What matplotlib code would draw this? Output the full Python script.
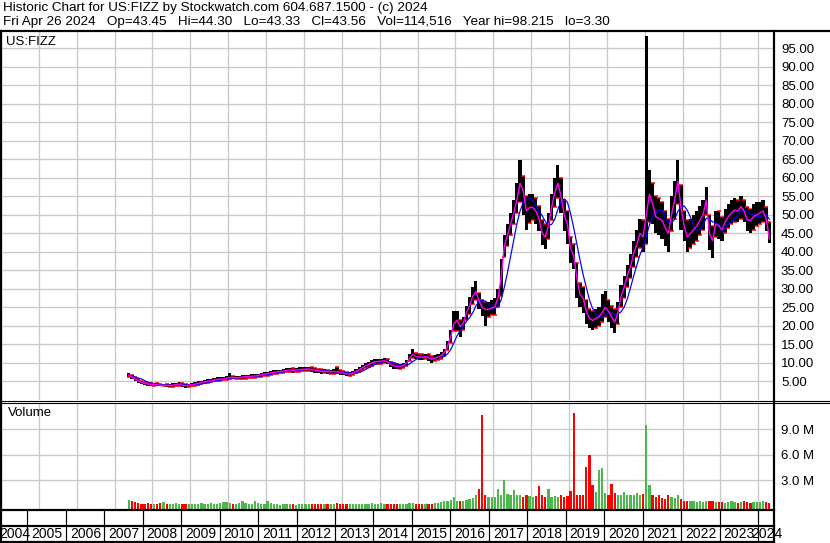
import numpy as np
import pandas as pd
import matplotlib
matplotlib.use('Agg')
import matplotlib.pyplot as plt
from matplotlib.lines import Line2D

plt.rcParams['font.family'] = ['Liberation Sans', 'DejaVu Sans']

# monthly data, May 2007 .. Apr 2024 (prices in $, volume in millions)
close = np.array(
    [6.8, 6.2, 5.6, 5.1, 4.8, 4.5, 4.3, 4.2] +                              # 2007
    [4.2, 4.1, 4.0, 4.0, 3.9, 3.9, 4.0, 4.2, 4.3, 4.0, 3.8, 4.0] +          # 2008
    [4.2, 4.3, 4.5, 4.7, 4.9, 5.1, 5.2, 5.4, 5.6, 5.6, 5.7, 5.9] +          # 2009
    [6.1, 6.0, 6.0, 6.1, 6.2, 6.3, 6.3, 6.4, 6.5, 6.6, 6.8, 7.0] +          # 2010
    [7.1, 7.3, 7.5, 7.6, 7.7, 7.8, 8.0, 8.1, 8.0, 8.1, 8.2, 8.3] +          # 2011
    [8.3, 8.4, 8.2, 8.0, 7.9, 7.7, 7.8, 7.6, 7.6, 7.7, 7.6, 7.4] +          # 2012
    [7.2, 7.0, 7.0, 7.3, 7.7, 8.2, 8.7, 9.2, 9.6, 10.0, 10.3, 10.4] +       # 2013
    [10.5, 10.6, 10.3, 9.6, 9.2, 9.0, 9.1, 9.3, 10.0, 11.2, 12.3, 11.8] +   # 2014
    [11.6, 11.5, 11.7, 11.5, 11.0, 11.3, 11.6, 12.0, 12.8, 14.5, 17.0, 20.5] +  # 2015
    [21.5, 19.8, 20.8, 23.5, 25.5, 28.0, 29.3, 26.8, 25.0, 24.4, 24.5, 24.8] +  # 2016
    [25.2, 27.5, 33.0, 41.5, 44.5, 47.5, 50.5, 54.0, 58.5, 56.5, 51.0, 52.0] +  # 2017
    [52.0, 51.0, 49.0, 45.0, 44.0, 47.0, 52.0, 56.0, 58.5, 55.0, 50.0, 47.5] +  # 2018
    [41.0, 39.0, 33.0, 28.5, 27.5, 24.0, 22.0, 21.5, 22.0, 22.5, 23.5, 25.0] +  # 2019
    [24.0, 22.5, 21.0, 23.5, 28.0, 30.5, 33.5, 36.0, 39.5, 42.0, 45.0, 44.0] +  # 2020
    [50.0, 55.5, 53.0, 49.5, 49.0, 48.5, 46.5, 45.0, 50.0, 54.0, 59.0, 52.0] +  # 2021
    [47.0, 44.0, 45.0, 46.0, 47.0, 48.5, 50.0, 54.0, 45.0, 43.0, 47.5, 47.0] +  # 2022
    [46.0, 48.0, 49.5, 50.5, 51.3, 51.0, 52.2, 51.0, 48.6, 48.5, 49.5, 50.0] +  # 2023
    [50.5, 51.0, 49.0, 43.56]                                                # 2024
)
high = np.array(
    [7.4, 6.8, 6.1, 5.6, 5.2, 4.9, 4.7, 4.6] +
    [4.6, 4.5, 4.4, 4.4, 4.3, 4.3, 4.5, 4.7, 4.8, 4.6, 4.3, 4.4] +
    [4.6, 4.8, 5.0, 5.2, 5.4, 5.6, 5.7, 5.9, 6.1, 6.1, 6.2, 6.4] +
    [7.4, 6.5, 6.4, 6.6, 6.7, 6.8, 6.8, 6.9, 7.0, 7.1, 7.3, 7.5] +
    [7.6, 7.8, 8.0, 8.1, 8.2, 8.3, 8.6, 8.7, 8.6, 8.7, 8.8, 8.9] +
    [8.9, 9.0, 8.8, 8.6, 8.5, 8.3, 8.4, 8.2, 8.2, 8.3, 9.0, 8.0] +
    [7.7, 7.5, 7.5, 7.8, 8.3, 8.8, 9.4, 9.9, 10.3, 10.7, 11.0, 11.1] +
    [11.2, 11.3, 11.0, 10.3, 9.9, 9.6, 9.7, 10.0, 10.8, 12.5, 13.8, 12.6] +
    [12.4, 12.3, 12.5, 12.3, 11.8, 12.1, 12.4, 12.9, 13.8, 15.8, 18.8, 23.9] +
    [23.9, 21.5, 22.5, 25.5, 27.8, 30.5, 32.2, 29.0, 27.0, 26.5, 26.5, 27.0] +
    [27.5, 30.0, 38.0, 44.5, 47.5, 50.5, 54.0, 58.5, 64.9, 60.5, 55.0, 55.5] +
    [55.5, 54.5, 52.5, 48.5, 47.5, 50.5, 55.5, 60.0, 63.5, 60.0, 54.0, 51.0] +
    [44.0, 42.0, 37.0, 31.5, 30.5, 27.0, 24.5, 24.0, 24.5, 25.0, 28.5, 29.3] +
    [27.0, 25.5, 24.5, 26.5, 31.0, 33.5, 36.5, 39.5, 43.0, 46.0, 49.0, 48.5] +
    [98.2, 62.0, 58.5, 55.0, 54.5, 53.5, 51.0, 49.0, 55.0, 59.0, 64.9, 58.0] +
    [51.0, 48.5, 49.0, 50.0, 51.0, 52.5, 54.0, 57.6, 50.0, 47.0, 51.0, 51.0] +
    [49.5, 51.5, 53.0, 54.0, 54.5, 54.0, 55.0, 54.0, 52.0, 51.5, 53.0, 53.5] +
    [53.5, 54.0, 52.0, 48.0]
)
low = np.array(
    [6.3, 5.7, 5.1, 4.7, 4.4, 4.1, 3.9, 3.9] +
    [3.9, 3.8, 3.7, 3.7, 3.6, 3.5, 3.6, 3.8, 3.9, 3.4, 3.3, 3.6] +
    [3.8, 3.9, 4.1, 4.3, 4.5, 4.7, 4.8, 5.0, 5.2, 5.2, 5.3, 5.5] +
    [5.7, 5.6, 5.6, 5.7, 5.8, 5.8, 5.9, 6.0, 6.0, 6.1, 6.3, 6.5] +
    [6.6, 6.8, 7.0, 7.1, 7.2, 7.3, 7.5, 7.5, 7.4, 7.5, 7.6, 7.7] +
    [7.7, 7.8, 7.6, 7.4, 7.3, 7.1, 7.2, 7.0, 7.0, 7.1, 7.0, 6.8] +
    [6.7, 6.5, 6.5, 6.8, 7.2, 7.6, 8.1, 8.6, 9.0, 9.3, 9.6, 9.7] +
    [9.8, 9.9, 9.6, 8.9, 8.5, 8.3, 8.4, 8.6, 9.3, 10.4, 11.4, 11.0] +
    [10.9, 10.8, 11.0, 10.6, 10.0, 10.5, 10.8, 11.2, 11.9, 13.4, 15.5, 18.5] +
    [18.5, 17.0, 18.8, 21.5, 23.3, 25.8, 27.0, 24.5, 22.6, 20.0, 22.5, 23.0] +
    [23.0, 25.0, 28.0, 38.5, 41.5, 44.5, 47.5, 50.5, 53.5, 50.0, 46.0, 47.8] +
    [48.5, 47.5, 45.5, 41.8, 40.8, 43.5, 48.5, 52.0, 54.5, 50.5, 45.5, 42.0] +
    [37.0, 35.5, 27.5, 25.0, 23.5, 20.5, 19.5, 19.0, 19.5, 20.0, 21.0, 22.5] +
    [21.0, 19.5, 18.0, 20.5, 25.0, 27.5, 30.5, 33.0, 36.0, 38.5, 41.0, 40.0] +
    [42.0, 48.0, 47.5, 45.0, 44.5, 43.5, 41.5, 40.0, 45.5, 49.0, 53.0, 46.0] +
    [43.0, 40.0, 41.0, 42.0, 43.0, 44.5, 46.0, 50.0, 40.5, 38.3, 44.0, 43.5] +
    [43.0, 45.0, 46.5, 47.5, 48.0, 48.0, 49.0, 48.0, 45.5, 45.0, 46.0, 47.0] +
    [47.5, 48.0, 45.5, 42.5]
)
volume = np.array(
    [0.7, 0.5, 0.4, 0.3, 0.2, 0.2, 0.3, 0.2] +
    [0.2, 0.2, 0.3, 0.4, 0.2, 0.2, 0.2, 0.3, 0.2, 0.2, 0.2, 0.2] +
    [0.2, 0.2, 0.2, 0.3, 0.2, 0.2, 0.3, 0.2, 0.2, 0.3, 0.4, 0.45] +
    [0.3, 0.2, 0.2, 0.3, 0.6, 0.3, 0.2, 0.2, 0.5, 0.3, 0.2, 0.2] +
    [0.6, 0.3, 0.2, 0.2, 0.1, 0.2, 0.2, 0.2, 0.2, 0.1, 0.2, 0.2] +
    [0.2, 0.15, 0.2, 0.2, 0.15, 0.2, 0.2, 0.15, 0.2, 0.2, 0.3, 0.2] +
    [0.2, 0.2, 0.15, 0.2, 0.2, 0.2, 0.25, 0.2, 0.2, 0.3, 0.2, 0.2] +
    [0.3, 0.2, 0.2, 0.2, 0.2, 0.15, 0.2, 0.2, 0.2, 0.3, 0.3, 0.2] +
    [0.2, 0.2, 0.2, 0.2, 0.2, 0.3, 0.3, 0.4, 0.5, 0.5, 0.7, 1.0] +
    [0.6, 0.5, 0.6, 0.7, 0.8, 0.9, 1.2, 2.0, 10.7, 1.3, 1.0, 1.0] +
    [1.0, 2.0, 1.2, 3.0, 1.4, 1.2, 1.8, 1.2, 1.3, 1.0, 1.3, 1.1] +
    [1.0, 1.1, 2.3, 1.2, 1.0, 2.0, 1.0, 1.1, 1.0, 1.2, 1.0, 1.1] +
    [1.7, 10.9, 1.3, 1.2, 1.3, 4.6, 5.9, 2.4, 1.6, 4.2, 4.4, 1.5] +
    [1.2, 2.6, 1.5, 1.2, 1.3, 1.6, 1.2, 1.3, 1.2, 1.5, 1.3, 1.4] +
    [9.5, 2.4, 1.2, 1.0, 1.2, 0.9, 0.8, 1.3, 1.0, 0.9, 1.3, 0.8] +
    [0.6, 0.5, 0.6, 0.5, 0.4, 0.5, 0.4, 0.6, 0.5, 0.5, 0.4, 0.4] +
    [0.4, 0.3, 0.4, 0.5, 0.4, 0.3, 0.4, 0.5, 0.4, 0.3, 0.4, 0.4] +
    [0.4, 0.5, 0.4, 0.3]
)

months = pd.period_range('2007-05', '2024-04', freq='M')
t = np.asarray(months.year + (months.month - 0.5) / 12)

years = list(range(2004, 2025))
price_ticks = list(range(5, 100, 5))
vol_ticks = [3, 6, 9]

header1 = "Historic Chart for US:FIZZ by Stockwatch.com 604.687.1500 - (c) 2024"
header2 = ("Fri Apr 26 2024   Op=43.45   Hi=44.30   Lo=43.33   Cl=43.56   "
           "Vol=114,516   Year hi=98.215   lo=3.30")

ma_long = pd.Series(close).rolling(5, min_periods=1).mean()
up = np.r_[True, close[1:] >= close[:-1]]

# ---- layout (pixels) ----
W, H = 830, 543
X0, X1 = 1, 774
YR_X, YR_PX = 27.3, 38.46   # pixel of 2005 boundary, pixels per year
xlim = (2005 + (X0 - YR_X) / YR_PX, 2005 + (X1 - YR_X) / YR_PX)
px = 0.72  # one pixel in points

fig = plt.figure(figsize=(8.3, 5.43), dpi=100)
fig.patch.set_facecolor('white')

def fx(x):
    return x / W

def fy(y):
    return 1 - y / H

def panel(top, bottom):
    a = fig.add_axes([fx(X0), fy(bottom), fx(X1 - X0), (bottom - top) / H])
    a.set_xlim(*xlim)
    for s in a.spines.values():
        s.set_visible(False)
    a.tick_params(length=0)
    return a

def line(xs, ys, lw):
    fig.add_artist(Line2D([fx(v) for v in xs], [fy(v) for v in ys],
                          color='black', lw=lw * px, transform=fig.transFigure))

grid = '#c8c8c8'

# price panel
ax = panel(32, 400)
ax.set_ylim(0, (400 - 32) / 3.704)
ax.set_xticks(years)
ax.set_xticklabels([])
ax.set_yticks(price_ticks)
ax.set_yticklabels(['%.2f' % v for v in price_ticks], fontsize=9.5)
ax.yaxis.tick_right()
ax.tick_params(axis='y', pad=5)
ax.grid(True, color=grid, lw=1.3 * px)
ax.set_axisbelow(True)
ax.bar(t, high - low, bottom=low, width=1 / 12, color='black', lw=0, zorder=2)
ax.plot(t[~up], high[~up], ls='none', marker='_', ms=3, mew=1.5 * px,
        color='red', zorder=3)
ax.plot(t[up], low[up], ls='none', marker='_', ms=3, mew=1.5 * px,
        color='red', zorder=3)
ax.plot(t, ma_long, color='#0000ff', lw=1.2 * px, zorder=4)
ax.plot(t, close, color='#ff00ff', lw=1.4 * px, zorder=5)
fig.text(fx(6), fy(42), 'US:FIZZ', fontsize=9.5, va='center')

# volume panel
axv = panel(403, 509)
vbot = -0.39
axv.set_ylim(vbot, 12.06)
axv.set_xticks(years)
axv.set_xticklabels([])
axv.set_yticks(vol_ticks)
axv.set_yticklabels(['%.1f M' % v for v in vol_ticks], fontsize=9.5)
axv.yaxis.tick_right()
axv.tick_params(axis='y', pad=5)
axv.grid(True, color=grid, lw=1.3 * px)
axv.set_axisbelow(True)
axv.bar(t, volume - vbot, bottom=vbot, width=0.06, lw=0,
        color=np.where(up, '#4cb84c', '#ff0000'), zorder=2)
fig.text(fx(8), fy(413), 'Volume', fontsize=9.5, va='center')

# date rows
axd = panel(509, 541)
axd.set_ylim(0, 1)
axd.set_xticks([])
axd.set_yticks([])
for yr in years:
    axd.axvline(yr, color='black', lw=1.2 * px)
for yr in years:
    if yr == 2004:
        xpos = 2005 + (-1 - YR_X) / YR_PX
    elif yr == 2024:
        xpos = 2023.83
    else:
        xpos = yr + 4 / YR_PX
    axd.text(xpos, 7.5 / 32, str(yr), fontsize=10, va='center', ha='left',
             clip_on=(yr == 2004))

# header
fig.text(fx(3), fy(8.5), header1, fontsize=9.7, va='center')
fig.text(fx(3), fy(21.5), header2, fontsize=9.7, va='center')

# frame lines
line([0, W], [31, 31], 2.2)
line([1, 1], [31, H], 2.2)
line([774, 774], [31, H], 2.2)
line([0, W], [400.5, 400.5], 1.1)
line([0, W], [402.8, 402.8], 1.1)
line([0, 774], [509.5, 509.5], 2.2)
line([0, 774], [526, 526], 2.2)
line([0, 774], [541.5, 541.5], 2.2)

fig.savefig('out.png', dpi=100, facecolor='white')
